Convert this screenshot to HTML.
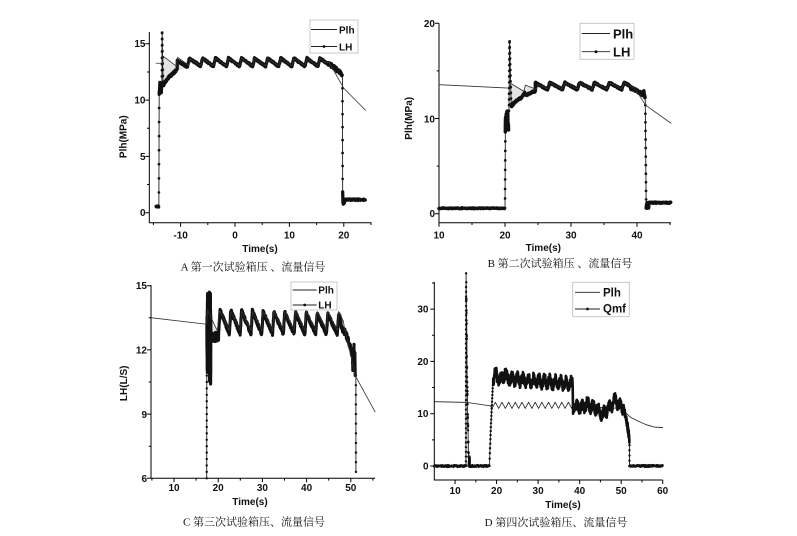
<!DOCTYPE html>
<html><head><meta charset="utf-8">
<style>
html,body{margin:0;padding:0;background:#fff;}
svg{display:block;}
.t{font-family:"Liberation Sans",Arial,sans-serif;font-weight:bold;font-size:10px;fill:#111;}
.cap{font-family:"Liberation Serif","Noto Serif CJK SC",serif;font-size:11px;fill:#111;}
</style></head><body>
<svg id="s" width="797" height="536" viewBox="0 0 797 536" xmlns="http://www.w3.org/2000/svg">
<rect width="797" height="536" fill="#fff"/>
<g id="g"></g>
<!-- Panel A text -->
<g class="t" text-anchor="end">
<text x="145.5" y="47.2">15</text><text x="145.5" y="103.5">10</text><text x="145.5" y="159.8">5</text><text x="145.5" y="216.2">0</text>
</g>
<g class="t" text-anchor="middle">
<text x="180.6" y="238.5">-10</text><text x="235" y="238.5">0</text><text x="289.4" y="238.5">10</text><text x="343.8" y="238.5">20</text>
<text x="260" y="252">Time(s)</text>
<text transform="translate(126.3,136.7) rotate(-90)">Plh(MPa)</text>
</g>
<text class="cap" x="253" y="270.5" text-anchor="middle">A 第一次试验箱压 、流量信号</text>
<!-- Panel B text -->
<g class="t" text-anchor="end">
<text x="435" y="26.8">20</text><text x="435" y="122.4">10</text><text x="435" y="217.2">0</text>
</g>
<g class="t" text-anchor="middle">
<text x="439" y="238.5">10</text><text x="505" y="238.5">20</text><text x="571" y="238.5">30</text><text x="637" y="238.5">40</text>
<text x="543.3" y="251">Time(s)</text>
<text transform="translate(412,118.3) rotate(-90)">Plh(MPa)</text>
</g>
<text class="cap" x="560" y="267" text-anchor="middle">B 第二次试验箱压 、流量信号</text>
<!-- Panel C text -->
<g class="t" text-anchor="end">
<text x="147" y="289.2">15</text><text x="147" y="353.5">12</text><text x="147" y="417.8">9</text><text x="147" y="481.8">6</text>
</g>
<g class="t" text-anchor="middle">
<text x="174" y="491">10</text><text x="218.2" y="491">20</text><text x="262.4" y="491">30</text><text x="306.6" y="491">40</text><text x="350.8" y="491">50</text>
<text x="250" y="505">Time(s)</text>
<text transform="translate(127,383.3) rotate(-90)">LH(L/S)</text>
</g>
<text class="cap" x="254" y="525.5" text-anchor="middle">C 第三次试验箱压、流量信号</text>
<!-- Panel D text -->
<g class="t" text-anchor="end">
<text x="428.5" y="312.5">30</text><text x="428.5" y="365.2">20</text><text x="428.5" y="417.2">10</text><text x="428.5" y="469.5">0</text>
</g>
<g class="t" text-anchor="middle">
<text x="455.1" y="494">10</text><text x="496.6" y="494">20</text><text x="538.1" y="494">30</text><text x="579.7" y="494">40</text><text x="621.2" y="494">50</text><text x="662.7" y="494">60</text>
<text x="563" y="508">Time(s)</text>
</g>
<text class="cap" x="556" y="526" text-anchor="middle">D 第四次试验箱压、流量信号</text>

<!-- Legends -->
<g fill="#fff" stroke="#bbb" stroke-width="0.8">
<rect x="310" y="20" width="48" height="33"/>
<rect x="580" y="23.3" width="54" height="36"/>
<rect x="291" y="282" width="46" height="28"/>
<rect x="572.7" y="282.3" width="56.6" height="34.4"/>
</g>
<g stroke="#222" stroke-width="0.9">
<line x1="311" y1="29.5" x2="337" y2="29.5"/><line x1="311" y1="46.5" x2="337" y2="46.5"/>
<line x1="581.7" y1="33.5" x2="610" y2="33.5"/><line x1="581.7" y1="51.7" x2="610" y2="51.7"/>
<line x1="292.7" y1="290" x2="316.7" y2="290"/><line x1="292.7" y1="305" x2="316.7" y2="305"/>
<line x1="575" y1="292.3" x2="600" y2="292.3"/><line x1="575" y1="309" x2="600" y2="309"/>
</g>
<g fill="#111">
<circle cx="324" cy="46.5" r="1.4"/><circle cx="596" cy="51.7" r="1.5"/><circle cx="304.7" cy="305" r="1.4"/><circle cx="587.5" cy="309" r="1.4"/>
</g>
<g class="t">
<text x="339" y="33.3">Plh</text><text x="339" y="50.7">LH</text>
<text x="613" y="38.3" style="font-size:13px">Plh</text><text x="613" y="56.7" style="font-size:13px">LH</text>
<text x="318.3" y="293.5">Plh</text><text x="318.3" y="308.3">LH</text>
<text x="603" y="296.7" style="font-size:11.5px">Plh</text><text x="603" y="312.3" style="font-size:11.5px">Qmf</text>
</g>
</svg>
<script>
(function(){
var S=1234567;
function R(){S=(S*16807)%2147483647;return S/2147483647;}
function N(a){return (R()*2-1)*a;}
var out='';
function mk(x0,t0,kx,y0,v0,ky){return function(t,v){return [x0+(t-t0)*kx,y0-(v-v0)*ky];};}
function path(pts,f,sw,col){if(pts.length<2)return;var d='';for(var i=0;i<pts.length;i++){var p=f(pts[i][0],pts[i][1]);d+=(i?'L':'M')+p[0].toFixed(2)+' '+p[1].toFixed(2);}
 out+='<path d="'+d+'" fill="none" stroke="'+col+'" stroke-width="'+sw+'" stroke-linejoin="round" stroke-linecap="round"/>';}
function poly(pts,f,col){var d='';for(var i=0;i<pts.length;i++){var p=f(pts[i][0],pts[i][1]);d+=(i?'L':'M')+p[0].toFixed(2)+' '+p[1].toFixed(2);}
 out+='<path d="'+d+'Z" fill="'+col+'" stroke="none"/>';}
function dots(pts,f,r){for(var i=0;i<pts.length;i++){var p=f(pts[i][0],pts[i][1]);out+='<circle cx="'+p[0].toFixed(2)+'" cy="'+p[1].toFixed(2)+'" r="'+r+'" fill="#111"/>';}}
function axes(f,t0,t1,v0,v1,xM,xm,yM,ym){
 var a=f(t0,v0),b=f(t1,v1);var d='M'+a[0]+' '+b[1]+'V'+a[1]+'H'+b[0];
 xM.forEach(function(t){var p=f(t,v0);d+='M'+p[0]+' '+a[1]+'v4';});
 xm.forEach(function(t){var p=f(t,v0);d+='M'+p[0]+' '+a[1]+'v2.3';});
 yM.forEach(function(v){var p=f(t0,v);d+='M'+a[0]+' '+p[1]+'h-4';});
 ym.forEach(function(v){var p=f(t0,v);d+='M'+a[0]+' '+p[1]+'h-2.3';});
 out+='<path d="'+d+'" fill="none" stroke="#000" stroke-width="1"/>';}
function bump(t,ref,P,rf){var p=(((t-ref)%P)+P)%P/P;return p<rf?p/rf:1-(p-rf)/(1-rf);}
/* series builder: thin line through all points, thick pieces, dots */
function Ser(){this.L=[];this.T=[];this.D=[];this.cur=null;}
Ser.prototype.k=function(t,v){var p=[t,v];if(!this.cur){this.cur=[];if(this.L.length)this.cur.push(this.L[this.L.length-1]);this.T.push(this.cur);}this.cur.push(p);this.L.push(p);};
Ser.prototype.d=function(t,v){var p=[t,v];this.cur=null;this.L.push(p);this.D.push(p);};
Ser.prototype.kd=function(t,v){this.k(t,v);this.D.push([t,v]);};
Ser.prototype.draw=function(f,sw,r){path(this.L,f,0.9,'#222');for(var i=0;i<this.T.length;i++)path(this.T[i],f,sw,'#111');dots(this.D,f,r);};
var t,v,i,s;

/* ===== Panel A ===== */
var fA=mk(235,0,5.44,212.7,0,11.26);
axes(fA,-15.75,25.1,-0.89,16.05,[-10,0,10,20],[-15,-5,5,15,25],[0,5,10,15],[2.5,7.5,12.5]);
poly([[-13.3,13.27],[-13.2,13.9],[-10.75,13.0],[-10.55,13.8],[-8.5,13.1],[-8.5,12.9],[-10.6,12.6],[-11.5,12.3],[-13.15,11.3],[-13.3,12]],fA,'#e4e4e4');
s=new Ser();
for(t=-14.5;t<-14.0;t+=0.05)s.k(t,0.55+N(0.05));
for(v=0.55;v<=10.6;v+=1.25)s.d(-14.0+v*0.006,v);
for(t=-13.93;t<-13.45;t+=0.03)s.kd(t,10.5+R()*1.1);
for(v=11;v<=16;v+=0.55)s.d(-13.45+(v-11)*0.01,v);
for(v=16;v>=11.3;v-=0.55)s.d(-13.4+(16-v)*0.04,v);
for(t=-13.15;t<-10.6;t+=0.04)s.k(t,11.3+1.4*Math.pow((t+13.15)/2.55,0.7)+N(0.12));
for(t=-10.6;t<17;t+=0.04){var base=t<-7?12.85+0.05*(t+10.6):13.0;s.k(t,base+0.72*bump(t,-6.35,2.4,0.146)+N(0.08));}
for(t=17;t<19.7;t+=0.04)s.k(t,13.2-1.0*Math.pow((t-17)/2.7,1.5)+N(0.18));
for(v=12.2;v>=0.7;v-=1.15)s.d(19.75+(12.2-v)*0.004,v);
for(t=19.85;t<20.15;t+=0.03)s.kd(t,0.7+R()*0.5);
for(t=20.15;t<24;t+=0.05)s.k(t,1.15+N(0.07));
var Pl=[[-14.5,13.27],[-13.3,13.27],[-13.2,13.9],[-10.75,13.0],[-10.55,13.8],[-8.5,13.1],[-8.2,13.65]];
for(t=-8;t<16.8;t+=0.05)Pl.push([t,13.05+0.65*bump(t,-6.35,2.4,0.146)]);
Pl.push([17.3,13.35],[20,11.05],[24,9.1]);
s.draw(fA,3.3,1.35);path(Pl,fA,0.8,'#333');

/* ===== Panel B ===== */
var fB=mk(439,10,6.6,213.7,0,9.52);
axes(fB,10,45.15,-0.945,20,[10,20,30,40],[15,25,35,45],[0,10,20],[5,15]);
poly([[20.5,13.2],[20.95,13.65],[22.85,12.85],[23.1,13.5],[24.8,13.05],[24.8,12.7],[23,12.2],[21.5,11.4],[20.95,11.2],[20.7,12.5]],fB,'#e4e4e4');
s=new Ser();
for(t=10;t<20;t+=0.1)s.k(t,0.57+N(0.04));
for(v=0.6;v<=9;v+=1.0)s.d(20+v*0.006,v);
for(t=20.06;t<20.55;t+=0.03)s.kd(t,8.8+R()*2);
for(v=10.8;v<=18.1;v+=0.6)s.d(20.6+(v-10.8)*0.011,v);
for(v=18.1;v>=11.2;v-=0.6)s.d(20.7+(18.1-v)*0.036,v);
for(t=21;t<24.6;t+=0.04)s.k(t,11.2+1.8*Math.pow((t-21)/4,0.6)+0.3*Math.exp(-Math.pow((t-22.9)/0.25,2))+N(0.1));
for(t=24.6;t<39;t+=0.04)s.k(t,13.05+0.72*bump(t,26.45,2.25,0.156)+N(0.08));
for(t=39;t<41.2;t+=0.04)s.k(t,13.2-0.9*Math.pow((t-39)/2.2,1.4)+0.5*Math.exp(-Math.pow((t-41.0)/0.1,2))+N(0.15));
for(v=12.3;v>=0.5;v-=0.9)s.d(41.25+(12.3-v)*0.012,v);
for(t=41.45;t<41.8;t+=0.03)s.kd(t,0.5+R()*0.7);
for(t=41.8;t<45.1;t+=0.05)s.k(t,1.15+N(0.06));
Pl=[[10,13.55],[20.5,13.2],[20.95,13.65],[22.85,12.85],[23.1,13.5],[24.8,13.05]];
for(t=25;t<39.3;t+=0.05)Pl.push([t,13.1+0.65*bump(t,26.45,2.25,0.156)]);
Pl.push([39.6,13.25],[41.3,11.4],[45.15,9.5]);
s.draw(fB,3.5,1.35);path(Pl,fB,0.8,'#333');

/* ===== Panel C ===== */
var fC=mk(174,10,4.42,478.3,6,21.4);
axes(fC,4.8,55.5,6,15.03,[10,20,30,40,50],[5,15,25,35,45,55],[6,9,12,15],[7.5,10.5,13.5]);
poly([[17.6,13.85],[19.8,12.9],[19.8,12.5],[18.3,12.5],[17.6,12.7]],fC,'#e4e4e4');
s=new Ser();
for(v=6;v<=13.5;v+=0.3)s.d(17.4+(v-6)*0.004,v);
i=0;for(t=17.45;t<18.35;t+=0.015){var vv=(i%2)?12.6+R()*2.1:10.4+R()*2.4;if(Math.abs(t-18.0)<0.01)vv=14.7;if(i%3==0)s.kd(t,vv);else s.k(t,vv);i++;}
for(t=18.35;t<20.1;t+=0.04)s.k(t,12.6+N(0.22));
for(t=20.1;t<47.8;t+=0.03)s.k(t,12.75+(1.12-0.008*(t-20))*bump(t,20.1,2.44,0.123)+N(0.09));
for(t=47.8;t<50.4;t+=0.04)s.k(t,13.0-1.3*Math.pow((t-47.8)/2.6,1.8)+N(0.15));
i=0;for(t=50.4;t<50.95;t+=0.025){s.k(t,(i%2)?11.6+R()*0.7:11.0+R()*0.5);i++;}
s.k(51.0,10.8);
for(v=10.8;v>=6;v-=0.45)s.d(51.15+(10.8-v)*0.002,v);
Pl=[[5,13.5],[17.4,13.2],[17.6,13.85],[19.8,12.9],[20.25,13.8]];
for(t=20.4;t<48.3;t+=0.05)Pl.push([t,12.9+0.9*bump(t,20.1,2.44,0.123)]);
Pl.push([48.5,13.1],[51,10.8],[55.5,9.1]);
s.draw(fC,3.1,1.2);path(Pl,fC,0.8,'#333');

/* ===== Panel D ===== */
var fD=mk(434.3,5,4.153,466,0,5.23);
axes(fD,5,60,-2.68,35.2,[10,20,30,40,50,60],[15,25,35,45,55],[0,10,20,30],[5,15,25,35]);
Pl=[[5,12.3],[13,12.15],[18.5,11.5],[18.9,11.0]];
for(t=18.9;t<38;t+=1.6){Pl.push([t+0.8,12.2],[t+1.6,11.0]);}
Pl.push([38.3,11.5],[50.2,11.0],[51.3,10.0],[52.3,9.3],[54,8.6],[56,7.9],[58,7.45],[60,7.35]);
path(Pl,fD,0.8,'#222');
s=new Ser();
for(t=5;t<12.6;t+=0.1)s.k(t,N(0.15));
for(v=0;v<=35;v+=0.9)s.d(12.62+v*0.001,v);
for(i=0;i<=40;i++)s.d(12.66+i*0.016,Math.max(0,35*Math.pow(1-i/40,1.3)+N(2.5)));
for(t=13.3;t<13.5;t+=0.02)s.d(t,R()*2);
for(t=13.5;t<18.3;t+=0.1)s.k(t,N(0.15));
for(t=18.3;t<19.2;t+=0.04)s.d(t,17*Math.pow((t-18.3)/0.9,0.8));
for(t=19.2;t<38.3;t+=0.03){var c=16.9-1.2*(t-19.2)/19.1+0.9*Math.exp(-Math.pow((t-19.7)/0.3,2))+1.2*Math.exp(-Math.pow((t-22)/0.3,2));s.k(t,c+0.7*Math.sin(2*Math.PI*t/1.3)+N(0.9));}
for(v=16;v>=10;v-=1)s.k(38.3+(16-v)*0.02,v);
for(t=38.45;t<50.5;t+=0.03){var c2=11.3-1.3*Math.exp(-Math.pow((t-45.5)/1.2,2))+1.4*Math.exp(-Math.pow((t-48.6)/0.7,2))+0.6*Math.exp(-Math.pow((t-41.8)/0.6,2));s.k(t,c2+0.6*Math.sin(2*Math.PI*t/1.3)+N(0.9));}
for(t=50.5;t<52;t+=0.03)s.k(t,11-6*Math.pow((t-50.5)/1.5,1.5)+N(0.8));
for(v=5;v>=0;v-=1)s.d(52,v);
for(t=52.05;t<=60;t+=0.1)s.k(t,N(0.15));
s.draw(fD,2.6,1.2);

document.getElementById('g').innerHTML=out;
})();
</script>
</body></html>
